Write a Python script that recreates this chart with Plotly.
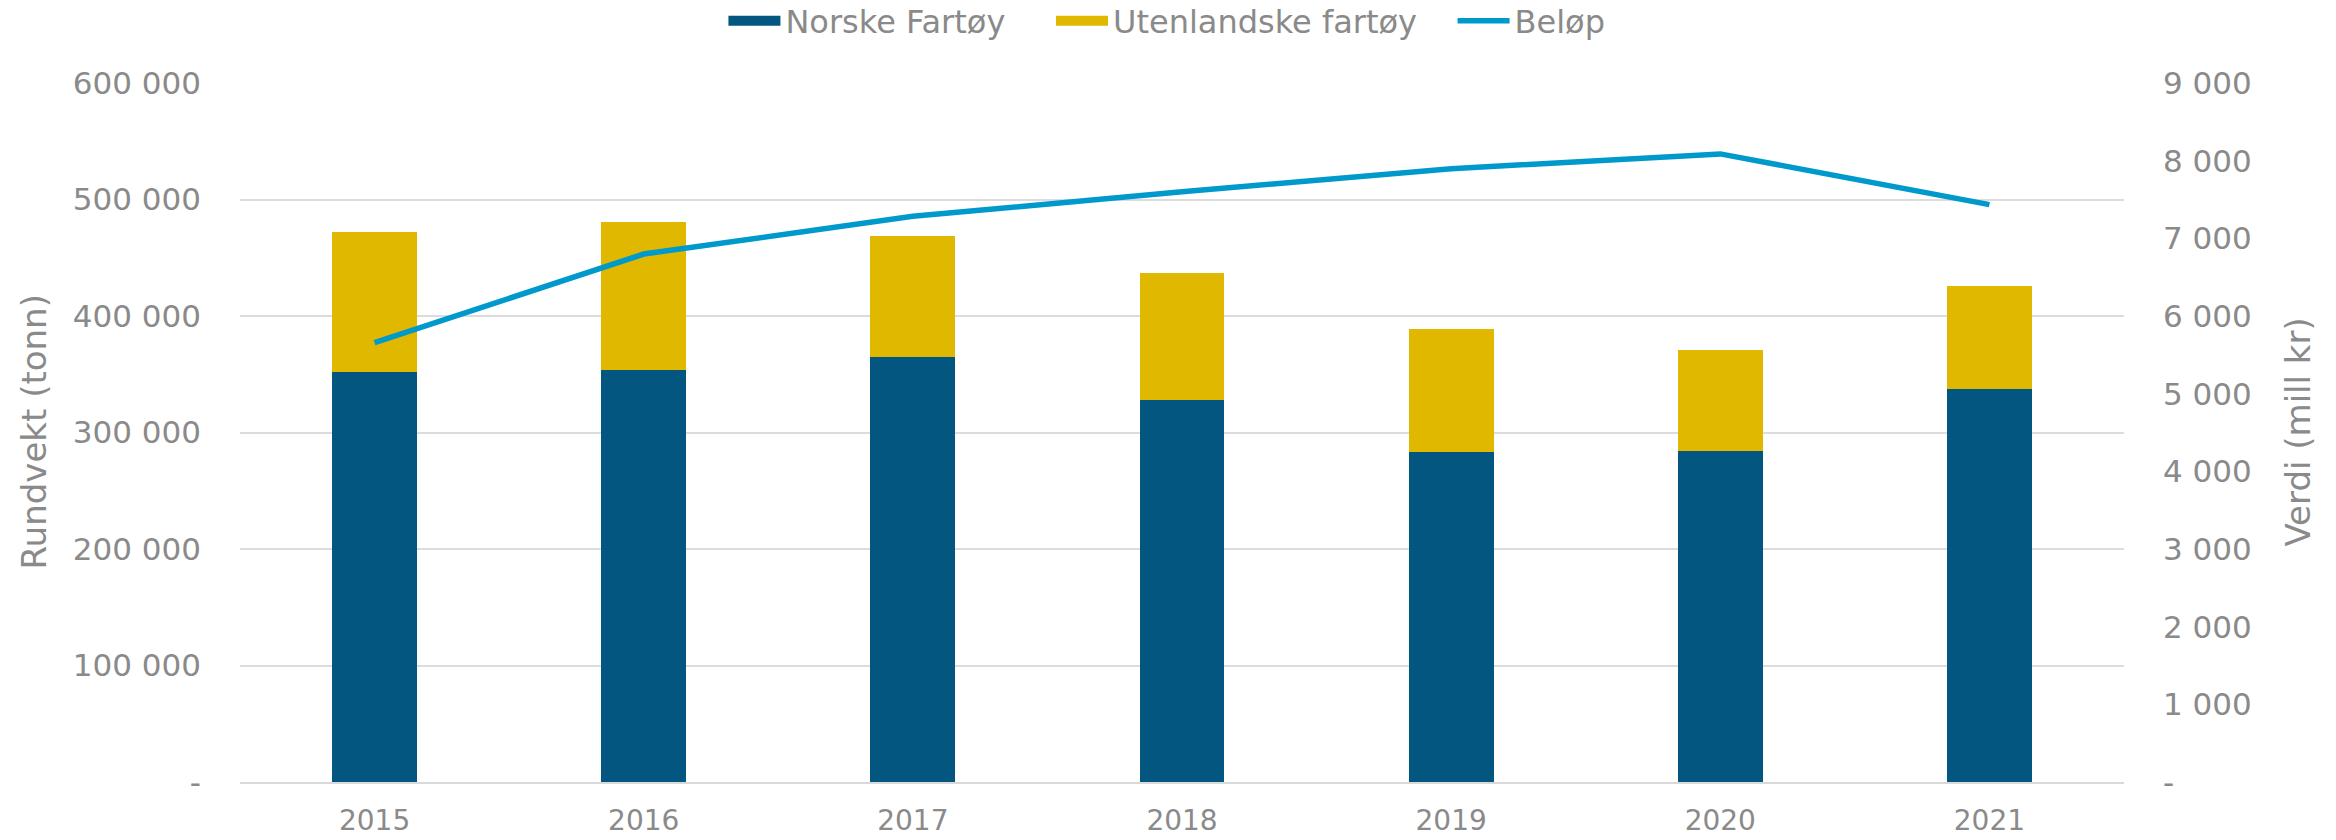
import plotly.graph_objects as go

years = ["2015", "2016", "2017", "2018", "2019", "2020", "2021"]
norske = [352000, 354000, 364500, 328300, 283200, 284300, 337700]
totalt = [472000, 480600, 469000, 436800, 388600, 370600, 425500]
utenlandske = [t - n for t, n in zip(totalt, norske)]
belop = [5656, 6798, 7283, 7600, 7897, 8087, 7434]

left_vals = [0, 100000, 200000, 300000, 400000, 500000, 600000]
left_text = ["-", "100 000", "200 000", "300 000", "400 000", "500 000", "600 000"]
right_vals = [0, 1000, 2000, 3000, 4000, 5000, 6000, 7000, 8000, 9000]
right_text = ["-", "1 000", "2 000", "3 000", "4 000", "5 000", "6 000", "7 000", "8 000", "9 000"]

FONT = "DejaVu Sans"
GREY = "#8a8a8a"
C_NO = "#02567f"
C_UT = "#e1b800"
C_BE = "#0099cc"

fig = go.Figure()
fig.add_trace(go.Bar(x=years, y=norske, name="Norske Fartøy", showlegend=False,
                     marker=dict(color=C_NO, line=dict(width=0))))
fig.add_trace(go.Bar(x=years, y=utenlandske, name="Utenlandske fartøy", showlegend=False,
                     marker=dict(color=C_UT, line=dict(width=0))))
fig.add_trace(go.Scatter(x=years, y=belop, name="Beløp", mode="lines", showlegend=False,
                         line=dict(color=C_BE, width=5.5), yaxis="y2"))

# legend entries (wide swatches like the reference)
fig.add_trace(go.Scatter(x=[None], y=[None], name="Norske Fartøy    ", mode="lines",
                         line=dict(color=C_NO, width=18)))
fig.add_trace(go.Scatter(x=[None], y=[None], name="Utenlandske fartøy   ", mode="lines",
                         line=dict(color=C_UT, width=18)))
fig.add_trace(go.Scatter(x=[None], y=[None], name="Beløp", mode="lines",
                         line=dict(color=C_BE, width=5.5)))

fig.update_layout(
    width=2336, height=840,
    barmode="stack", bargap=0.685,
    paper_bgcolor="white", plot_bgcolor="white",
    margin=dict(l=240, r=212, t=83, b=58),
    font=dict(family=FONT, color=GREY, size=30),
    legend=dict(orientation="h", x=0.492, xanchor="center", yref="container",
                y=0.975, yanchor="middle", font=dict(size=32, color=GREY),
                traceorder="normal", itemwidth=52),
    xaxis=dict(type="category", showgrid=False, showline=True, automargin=False,
               linecolor="#d9d9d9", linewidth=2, ticks="",
               tickfont=dict(size=28, color=GREY), ticklabelstandoff=12),
    yaxis=dict(range=[0, 600000], tickvals=left_vals, ticktext=left_text,
               showgrid=True, gridcolor="#dcdcdc", gridwidth=1.5, automargin=False,
               zeroline=False, tickfont=dict(size=31, color=GREY),
               ticklabelstandoff=38),
    yaxis2=dict(range=[0, 9000], tickvals=right_vals, ticktext=right_text,
                overlaying="y", side="right", showgrid=False, zeroline=False,
                automargin=False,
                tickfont=dict(size=31, color=GREY), ticklabelstandoff=38),
    annotations=[
        dict(text="Rundvekt (tonn)", textangle=-90, xref="paper", yref="paper",
             x=0, y=0.5, xanchor="center", yanchor="middle", xshift=-207,
             showarrow=False, font=dict(size=34, color=GREY)),
        dict(text="Verdi (mill kr)", textangle=-90, xref="paper", yref="paper",
             x=1, y=0.5, xanchor="center", yanchor="middle", xshift=173,
             showarrow=False, font=dict(size=34, color=GREY)),
    ],
)

fig.write_html("out.html", config={"displayModeBar": False},
               post_script="document.body.style.margin='0';")
